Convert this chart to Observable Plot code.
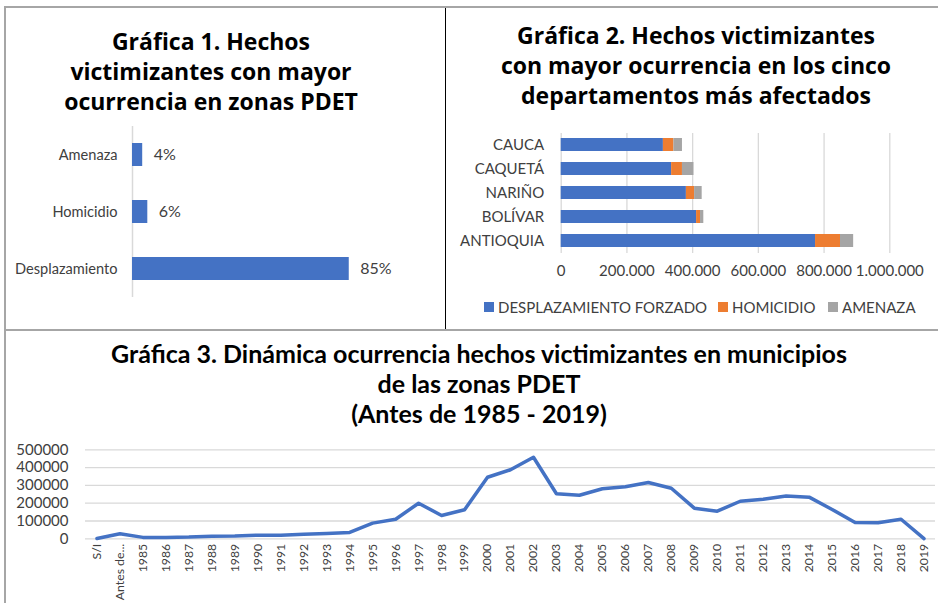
<!DOCTYPE html>
<html><head><meta charset="utf-8">
<script src="https://cdn.jsdelivr.net/npm/d3@7"></script>
<script src="https://cdn.jsdelivr.net/npm/@observablehq/plot@0.6"></script>
<style>
body{margin:0;background:#fff;}
#wrap{position:relative;width:938px;height:603px;overflow:hidden;background:#fff;font-family:Lato,sans-serif;}
.abs{position:absolute;}
.tA{font-family:"Open Sans",sans-serif;font-weight:700;font-size:23px;line-height:30px;text-align:center;color:#000;white-space:nowrap;}
.tB{font-family:Lato,sans-serif;font-weight:700;font-size:25px;line-height:30px;text-align:center;color:#000;white-space:nowrap;}
.leg{font-family:Lato,sans-serif;font-size:15px;color:#404040;white-space:nowrap;line-height:16px;}
.sq{width:10px;height:10px;}
#c3 [aria-label^="x-axis"] text{font-size:12.3px;}
</style>
</head><body>
<div id="wrap">
  <div class="abs" style="left:4px;top:6px;width:934px;height:2px;background:#a6a6a6"></div>
  <div class="abs" style="left:4px;top:6px;width:2px;height:597px;background:#a6a6a6"></div>
  <div class="abs" style="left:445px;top:8px;width:1px;height:321px;background:#000"></div>
  <div class="abs" style="left:4px;top:329px;width:934px;height:2px;background:#a6a6a6"></div>

  <div class="abs tA" style="left:0;top:26px;width:422px">Gráfica 1. Hechos<br>victimizantes con mayor<br>ocurrencia en zonas PDET</div>
  <div class="abs tA" style="left:446px;top:20px;width:500px">Gráfica 2. Hechos victimizantes<br>con mayor ocurrencia en los cinco<br>departamentos más afectados</div>
  <div class="abs tB" style="left:20px;top:338px;width:918px">Gráfica 3. Dinámica ocurrencia hechos victimizantes en municipios<br>de las zonas PDET<br>(Antes de 1985 - 2019)</div>

  <div id="c1" class="abs" style="left:5px;top:115px"></div>
  <div id="c2" class="abs" style="left:446px;top:120px"></div>
  <div id="legend2"></div>
  <div id="c3" class="abs" style="left:0;top:440px"></div>
</div>
<script>
// Gráfica 1
const chart1Categories = ["Amenaza", "Homicidio", "Desplazamiento"];
const chart1Values = [0.04, 0.06, 0.85];

// Gráfica 2
const departments = ["CAUCA", "CAQUETÁ", "NARIÑO", "BOLÍVAR", "ANTIOQUIA"];
const desplazamientoForzado = [311000, 336000, 381000, 412000, 774000];
const homicidio = [32000, 33000, 25000, 12000, 76000];
const amenaza = [26000, 35000, 23000, 10000, 40000];
const seriesNames = ["DESPLAZAMIENTO FORZADO", "HOMICIDIO", "AMENAZA"];
const seriesColors = ["#4472C4", "#ED7D31", "#A5A5A5"];
const chart2Ticks = [0, 200000, 400000, 600000, 800000, 1000000];

// Gráfica 3
const periods = ["S/I", "Antes de...", "1985", "1986", "1987", "1988", "1989", "1990", "1991", "1992", "1993", "1994",
  "1995", "1996", "1997", "1998", "1999", "2000", "2001", "2002", "2003", "2004", "2005", "2006", "2007", "2008",
  "2009", "2010", "2011", "2012", "2013", "2014", "2015", "2016", "2017", "2018", "2019"];
const ocurrencias = [1500, 28000, 8000, 8000, 10000, 15000, 16000, 20000, 20000, 25000, 30000, 36000,
  88000, 110000, 200000, 131000, 163000, 346000, 388000, 458000, 253000, 245000, 281000, 292000, 316000, 284000,
  172000, 155000, 211000, 222000, 241000, 234000, 165000, 92000, 90000, 110000, 1000];
const chart3Ticks = [0, 100000, 200000, 300000, 400000, 500000];

const baseStyle = {fontFamily: "Lato, sans-serif", fontSize: "14.6px", color: "#404040", background: "transparent", overflow: "visible"};

// Chart 1
const data1 = chart1Categories.map((c, i) => ({cat: c, value: chart1Values[i]}));
const p1 = Plot.plot({
  width: 440, height: 190,
  marginLeft: 127, marginRight: 58, marginTop: 11, marginBottom: 8,
  x: {domain: [0, 1], axis: null},
  y: {domain: chart1Categories, paddingInner: 0.6, paddingOuter: 0.3, tickSize: 0, tickPadding: 15, label: null},
  style: baseStyle,
  marks: [
    Plot.ruleX([0], {stroke: "#d9d9d9", strokeWidth: 1.5}),
    Plot.barX(data1, {x: "value", y: "cat", fill: "#4472C4"}),
    Plot.text(data1, {x: "value", y: "cat", text: d => Math.round(d.value * 100) + "%", dx: 11, textAnchor: "start", fontSize: 16, fill: "#404040"})
  ]
});
document.getElementById("c1").appendChild(p1);

// Chart 2
const seriesArrays = [desplazamientoForzado, homicidio, amenaza];
const data2 = [];
seriesNames.forEach((s, j) => departments.forEach((d, i) => data2.push({dept: d, serie: s, value: seriesArrays[j][i]})));
const p2 = Plot.plot({
  width: 490, height: 165,
  marginLeft: 114.7, marginRight: 46.7, marginTop: 13, marginBottom: 32,
  x: {domain: [0, 1000000], ticks: chart2Ticks, tickFormat: d => d3.format(",")(d).replace(/,/g, "."), tickSize: 0, tickPadding: 12, label: null},
  y: {domain: departments, paddingInner: 0.44, paddingOuter: 0.22, tickSize: 0, tickPadding: 17, label: null},
  color: {domain: seriesNames, range: seriesColors},
  style: {...baseStyle, fontSize: "15px"},
  marks: [
    Plot.ruleX(chart2Ticks, {stroke: "#d9d9d9", strokeWidth: 1.3}),
    Plot.barX(data2, {x: "value", y: "dept", fill: "serie", z: "serie"})
  ]
});
document.getElementById("c2").appendChild(p2);

// Legend 2
const legPos = [484, 718, 828];
const leg = document.getElementById("legend2");
seriesNames.forEach((s, i) => {
  const sq = document.createElement("div");
  sq.className = "abs sq";
  sq.style.left = legPos[i] + "px"; sq.style.top = "302px"; sq.style.background = seriesColors[i];
  leg.appendChild(sq);
  const t = document.createElement("div");
  t.className = "abs leg";
  t.style.left = (legPos[i] + 14) + "px"; t.style.top = "299px";
  t.textContent = s;
  leg.appendChild(t);
});

// Chart 3
const data3 = periods.map((p, i) => ({period: p, value: ocurrencias[i]}));
const p3 = Plot.plot({
  width: 938, height: 163,
  marginLeft: 85, marginRight: 3, marginTop: 9.3, marginBottom: 64.7,
  x: {type: "point", domain: periods, padding: 0.5, tickSize: 0, tickPadding: 5, tickRotate: -90, label: null},
  y: {domain: [0, 500000], ticks: chart3Ticks, tickFormat: d => String(d), tickSize: 0, tickPadding: 17, label: null},
  style: {...baseStyle, fontSize: "15px"},
  marks: [
    Plot.ruleY(chart3Ticks, {stroke: "#d9d9d9", strokeWidth: 1.3}),
    Plot.lineY(data3, {x: "period", y: "value", stroke: "#4472C4", strokeWidth: 3.5, strokeLinejoin: "round", strokeLinecap: "round"})
  ]
});
document.getElementById("c3").appendChild(p3);
</script>
</body></html>
